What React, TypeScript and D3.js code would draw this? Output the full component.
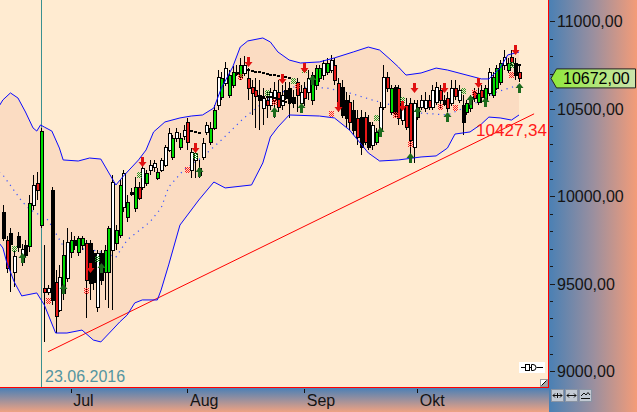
import React, { useEffect } from "react";
import * as d3 from "d3";

// ---------- DATA ----------
const firstDay = new Date(Date.UTC(2016, 5, 13));

const opens = [
  9909, 9749, 9789, 9566, 9771, 9623, 9720, 9714, 9949, 10074,
  9834, 9474, 9451, 10034, 9509, 9349, 9446, 9531, 9680, 9749,
  9680, 9720, 9731, 9731, 9674, 9366, 9674, 9566, 9566, 9691,
  9731, 9777, 9937, 9880, 10023, 9931, 10051, 10051, 10074, 10149,
  10166, 10103, 10149, 10177, 10263, 10223, 10331, 10280, 10343, 10423,
  10149, 10206, 10120, 10223, 10366, 10309, 10389, 10520, 10566, 10646,
  10577, 10634, 10709, 10680, 10703, 10674, 10623, 10606, 10577, 10503,
  10549, 10520, 10549, 10594, 10520, 10606, 10617, 10566, 10651, 10531,
  10617, 10594, 10549, 10634, 10674, 10691, 10709, 10720, 10749, 10646,
  10623, 10549, 10537, 10491, 10446, 10451, 10451, 10423, 10291, 10309,
  10377, 10509, 10680, 10480, 10623, 10617, 10434, 10520, 10531, 10280,
  10451, 10509, 10503, 10549, 10509, 10537, 10606, 10549, 10560, 10531,
  10617, 10549, 10520, 10480, 10503, 10594, 10537, 10606, 10549, 10589,
  10577, 10617, 10651, 10749, 10720, 10794, 10760, 10709,
];
const highs = [
  9949, 9771, 9817, 9691, 9794, 9726, 9749, 10006, 10120, 10137,
  10389, 9720, 9491, 10051, 9577, 9606, 9749, 9817, 9794, 9771,
  9771, 9771, 9749, 9749, 9691, 9691, 9691, 9720, 9829, 10120,
  9834, 10091, 10149, 10006, 10046, 10109, 10080, 10177, 10149, 10206,
  10206, 10160, 10217, 10291, 10389, 10349, 10389, 10360, 10406, 10446,
  10274, 10263, 10206, 10331, 10423, 10423, 10520, 10720, 10709, 10766,
  10720, 10743, 10749, 10789, 10800, 10731, 10663, 10674, 10663, 10617,
  10594, 10617, 10651, 10663, 10634, 10651, 10651, 10606, 10674, 10634,
  10651, 10720, 10709, 10749, 10749, 10777, 10789, 10806, 10789, 10674,
  10663, 10594, 10577, 10549, 10491, 10491, 10480, 10463, 10423, 10389,
  10537, 10749, 10709, 10634, 10634, 10634, 10549, 10560, 10560, 10549,
  10549, 10577, 10594, 10577, 10634, 10651, 10634, 10577, 10594, 10663,
  10663, 10634, 10577, 10549, 10577, 10617, 10617, 10634, 10634, 10731,
  10709, 10749, 10777, 10834, 10789, 10834, 10789, 10749,
];
const lows = [
  9743, 9560, 9451, 9480, 9680, 9600, 9646, 9680, 9920, 9977,
  9817, 9166, 9434, 9377, 9217, 9337, 9406, 9509, 9646, 9691,
  9657, 9691, 9303, 9406, 9463, 9337, 9491, 9406, 9360, 9349,
  9691, 9760, 9909, 9851, 10000, 9909, 9977, 10034, 10057, 10120,
  10137, 10091, 10137, 10166, 10251, 10206, 10309, 10263, 10320, 10263,
  10103, 10103, 10103, 10206, 10349, 10291, 10377, 10491, 10549, 10629,
  10560, 10617, 10686, 10663, 10686, 10549, 10463, 10389, 10377, 10406,
  10446, 10491, 10446, 10480, 10491, 10549, 10446, 10503, 10480, 10503,
  10514, 10549, 10520, 10606, 10651, 10663, 10691, 10703, 10634, 10480,
  10446, 10389, 10377, 10349, 10291, 10234, 10291, 10263, 10263, 10291,
  10366, 10491, 10594, 10463, 10446, 10406, 10406, 10377, 10206, 10189,
  10434, 10491, 10480, 10491, 10491, 10520, 10503, 10514, 10480, 10514,
  10549, 10531, 10349, 10463, 10480, 10537, 10520, 10531, 10537, 10571,
  10560, 10606, 10634, 10720, 10703, 10749, 10663, 10651,
];
const closes = [
  9760, 9589, 9726, 9657, 9709, 9697, 9663, 9960, 10063, 10034,
  10371, 9451, 9474, 9406, 9314, 9537, 9663, 9737, 9749, 9720,
  9760, 9760, 9520, 9503, 9509, 9674, 9520, 9691, 9817, 10080,
  9806, 10063, 10131, 9966, 10011, 10051, 9989, 10160, 10131, 10177,
  10189, 10137, 10206, 10280, 10360, 10331, 10366, 10331, 10377, 10309,
  10251, 10246, 10160, 10303, 10406, 10389, 10491, 10680, 10674, 10731,
  10691, 10709, 10697, 10749, 10749, 10617, 10589, 10571, 10549, 10560,
  10520, 10594, 10606, 10509, 10577, 10560, 10537, 10531, 10577, 10594,
  10560, 10674, 10691, 10731, 10731, 10760, 10760, 10777, 10663, 10503,
  10463, 10446, 10423, 10377, 10337, 10280, 10309, 10280, 10406, 10366,
  10509, 10680, 10617, 10617, 10474, 10446, 10503, 10394, 10320, 10531,
  10509, 10549, 10549, 10509, 10606, 10623, 10549, 10526, 10503, 10617,
  10571, 10606, 10423, 10531, 10566, 10560, 10589, 10566, 10617, 10709,
  10680, 10731, 10760, 10794, 10760, 10766, 10691, 10672,
];
// W = up, B = down, G = strong up, R = strong down
const candleKinds = (
  "BRBWBWBGWR" + "GRWBRWGWGB" + "GGRBBWBGGW" + "GGWGBGRWGW" + "WGWWWGWGWR" +
  "WWGWWGGWGW" + "GGBGWRRRBW" + "RWWRWBBBRW" + "RWGGGWGWRR" + "BBRBRBRBWG" +
  "WWRGBRWRRW" + "GWWRWWRBRW" + "RWBGGRGRGW" + "GGGWGRBR"
).split("");

// Bollinger bands (day offsets from firstDay)
const upperDays = [-1, 0, 2, 4, 6, 8, 9, 10, 11, 13, 15, 16, 20, 23, 26, 28, 30, 32, 36, 38, 40, 43, 47, 50, 53, 56, 58, 61, 63, 65, 69, 71, 73, 76, 79, 84, 88, 93, 97, 100, 103, 105, 107, 111, 115, 118, 124, 127, 129, 132, 134, 137];
const upperBand = [10514, 10549, 10589, 10560, 10480, 10389, 10371, 10406, 10394, 10371, 10274, 10206, 10200, 10217, 10211, 10137, 10063, 10114, 10206, 10263, 10366, 10423, 10446, 10457, 10463, 10503, 10617, 10737, 10851, 10886, 10903, 10880, 10823, 10777, 10760, 10766, 10789, 10823, 10851, 10834, 10777, 10737, 10691, 10703, 10731, 10720, 10686, 10669, 10669, 10731, 10806, 10823];
const middleDays = [-1, 0, 5, 7, 12, 16, 19, 24, 27, 30, 33, 39, 42, 44, 48, 53, 58, 64, 70, 77, 86, 92, 98, 105, 111, 118, 126, 131, 137];
const middleBand = [10137, 10120, 9971, 9926, 9863, 9714, 9703, 9691, 9674, 9651, 9749, 9851, 9931, 10051, 10149, 10223, 10320, 10446, 10549, 10623, 10617, 10589, 10549, 10509, 10474, 10463, 10537, 10594, 10634];
const lowerDays = [-1, 0, 1, 3, 5, 9, 11, 14, 17, 21, 24, 26, 29, 31, 33, 35, 37, 41, 42, 44, 47, 52, 56, 59, 66, 69, 71, 73, 76, 84, 88, 92, 97, 100, 105, 111, 115, 118, 120, 124, 127, 129, 132, 135, 137];
const lowerBand = [9731, 9703, 9623, 9509, 9429, 9446, 9377, 9217, 9217, 9234, 9177, 9166, 9234, 9280, 9320, 9389, 9406, 9406, 9463, 9606, 9834, 9977, 10080, 10046, 10063, 10189, 10337, 10394, 10463, 10457, 10446, 10377, 10246, 10200, 10206, 10223, 10229, 10274, 10354, 10366, 10411, 10451, 10446, 10434, 10463];

// signals
const sellDays = [23, 37, 51, 65, 74, 80, 89, 106, 109, 117, 126, 136];
const sellTips = [9560, 10166, 10246, 10737, 10640, 10703, 10480, 10486, 10589, 10589, 10617, 10806];
const buyDays = [5, 16, 26, 52, 72, 79, 82, 100, 108, 110, 118, 124, 128, 137];
const buyTips = [9674, 9497, 9617, 10166, 10509, 10531, 10691, 10394, 10246, 10509, 10480, 10577, 10566, 10646];
const redMarkDays = [12, 22, 49, 63, 72, 78, 87, 104, 108, 116, 120, 125, 135];
const redMarkVals = [9400, 9457, 10149, 10680, 10537, 10629, 10469, 10463, 10297, 10509, 10503, 10589, 10691];
const greenMarkDays = [3, 25, 36, 51, 70, 77, 80, 99, 106, 122, 135];
const greenMarkVals = [9697, 9640, 10120, 10229, 10589, 10657, 10720, 10446, 10549, 10600, 10749];
const stopDays = [50, 51, 52, 65, 66, 67, 68, 69, 70, 71, 72, 73, 74, 75, 76, 69, 70, 71, 72, 73, 74, 75, 76, 135, 136, 137];
const stopVals = [10371, 10366, 10360, 10720, 10714, 10709, 10706, 10703, 10697, 10694, 10691, 10686, 10683, 10680, 10674, 10566, 10566, 10566, 10560, 10554, 10543, 10537, 10531, 10749, 10749, 10749];

// axes
const priceLabelValues = [9000, 9500, 10000, 10500, 11000];
const priceMinor = d3.range(9000, 11001, 100);
const monthDates = [
  new Date(Date.UTC(2016, 6, 1)),
  new Date(Date.UTC(2016, 7, 1)),
  new Date(Date.UTC(2016, 8, 1)),
  new Date(Date.UTC(2016, 9, 1)),
];
const monthLabels = ["Jul", "Aug", "Sep", "Okt"];
const markerDate = new Date(Date.UTC(2016, 5, 23));
const lastPrice = 10672;
const trendDates = [new Date(Date.UTC(2016, 5, 25)), new Date(Date.UTC(2016, 9, 28))];
const trendValues = [9110, 10427.34];
const trendEnd = new Date(Date.UTC(2016, 10, 1));

// ---------- RENDER ----------
const FONT = "'Liberation Sans', Arial, Helvetica, sans-serif";
const de = d3.formatLocale({ decimal: ",", thousands: ".", grouping: [3], currency: ["", " €"] });
const fmt = de.format(".2f");
const dateFmt = d3.utcFormat("%d.%m.%Y");

const KIND_FILL: Record<string, string> = { W: "#ffffff", B: "#000000", G: "#00dc00", R: "#e81818" };

export default function App() {
  useEffect(() => {
    document.body.style.margin = "0";
  }, []);

  const PW = 548; // plot right
  const PB = 387; // plot bottom
  const x = d3.scaleUtc().domain([monthDates[0], monthDates[3]]).range([70.7, 417.3]);
  const y = d3.scaleLinear().domain([9000, 11000]).range([371, 21]);
  const dx = (k: number) => x(d3.utcDay.offset(firstDay, k));

  const line = d3.line<[number, number]>();
  const upperPts = upperDays.map((k, i) => [dx(k), y(upperBand[i])] as [number, number]);
  const lowerPts = lowerDays.map((k, i) => [dx(k), y(lowerBand[i])] as [number, number]);
  const midPts = middleDays.map((k, i) => [dx(k), y(middleBand[i])] as [number, number]);
  const fillPath = line([...upperPts, ...lowerPts.slice().reverse()]) + "Z";

  const trend = d3.scaleUtc().domain(trendDates).range(trendValues);
  const markerX = Math.round(x(markerDate)) + 0.5;

  const lastY = y(lastPrice);

  return (
    <svg
      width={637}
      height={412}
      style={{ position: "absolute", left: 0, top: 0, display: "block" }}
      fontFamily={FONT}
    >
      <defs>
        <clipPath id="plotClip">
          <rect x={0} y={0} width={PW} height={PB} />
        </clipPath>
        <linearGradient id="rightPanel" x1="0" x2="1" y1="0" y2="0">
          <stop offset="0" stopColor="#4a80b4" />
          <stop offset="0.5" stopColor="#9a8f9f" />
          <stop offset="1" stopColor="#f49c78" />
        </linearGradient>
        <linearGradient id="bottomPanel" x1="0" x2="0" y1="0" y2="1">
          <stop offset="0" stopColor="#4c80b6" />
          <stop offset="1" stopColor="#efa282" />
        </linearGradient>
        <linearGradient id="priceBox" x1="0" x2="1" y1="0" y2="0">
          <stop offset="0" stopColor="#8fe83a" />
          <stop offset="1" stopColor="#cce4ad" />
        </linearGradient>
        <pattern id="hatchRed" width="2" height="2" patternUnits="userSpaceOnUse">
          <rect width="1" height="1" fill="#ff2020" />
          <rect x="1" y="1" width="1" height="1" fill="#ff2020" />
        </pattern>
        <pattern id="hatchGreen" width="2" height="2" patternUnits="userSpaceOnUse">
          <rect width="1" height="1" fill="#2a9a2a" />
          <rect x="1" y="1" width="1" height="1" fill="#2a9a2a" />
        </pattern>
      </defs>

      {/* plot background */}
      <rect x={0} y={0} width={PW + 1} height={PB + 1} fill="#ffebd1" />

      <g clipPath="url(#plotClip)">
        {/* band fill */}
        <path d={fillPath} fill="#fbdcc2" />
        {/* middle band dotted */}
        <path
          d={line(midPts) || ""}
          fill="none"
          stroke="#3a55ff"
          strokeWidth={1.2}
          strokeDasharray="1.2 4.5"
        />
        {/* date marker line */}
        <line x1={markerX} x2={markerX} y1={0} y2={PB} stroke="#3a9090" strokeWidth={1} />
        {/* trend line */}
        <line
          x1={x(trendDates[0])}
          y1={y(trendValues[0])}
          x2={x(trendEnd)}
          y2={y(trend(trendEnd))}
          stroke="#ff0000"
          strokeWidth={1}
        />

        {/* candles */}
        <g shapeRendering="crispEdges">
          {opens.map((o, i) => {
            const n = Math.round(dx(i));
            const yo = y(o);
            const yc = y(closes[i]);
            const top = Math.round(Math.min(yo, yc));
            const h = Math.max(1, Math.round(Math.abs(yo - yc)));
            const kind = candleKinds[i];
            return (
              <g key={i}>
                <line
                  x1={n + 0.5}
                  x2={n + 0.5}
                  y1={Math.round(y(highs[i]))}
                  y2={Math.round(y(lows[i]))}
                  stroke="#000"
                  strokeWidth={1}
                />
                <rect
                  x={n - 0.5}
                  y={top + 0.5}
                  width={3}
                  height={h}
                  fill={KIND_FILL[kind]}
                  stroke="#000"
                  strokeWidth={1}
                />
              </g>
            );
          })}
        </g>

        {/* stop dashes */}
        <g shapeRendering="crispEdges">
          {stopDays.map((k, i) => (
            <rect
              key={i}
              x={Math.round(dx(k)) - 1}
              y={Math.round(y(stopVals[i])) - 1}
              width={3}
              height={2}
              fill="#000"
            />
          ))}
        </g>

        {/* band lines */}
        <path d={line(upperPts) || ""} fill="none" stroke="#0a0aff" strokeWidth={1} />
        <path d={line(lowerPts) || ""} fill="none" stroke="#0a0aff" strokeWidth={1} />

        {/* hatch markers */}
        {redMarkDays.map((k, i) => (
          <rect
            key={"r" + i}
            x={Math.round(dx(k)) - 2}
            y={Math.round(y(redMarkVals[i])) - 3}
            width={5}
            height={6}
            fill="url(#hatchRed)"
          />
        ))}
        {greenMarkDays.map((k, i) => (
          <rect
            key={"g" + i}
            x={Math.round(dx(k)) - 2}
            y={Math.round(y(greenMarkVals[i])) - 3}
            width={5}
            height={6}
            fill="url(#hatchGreen)"
          />
        ))}

        {/* sell arrows */}
        {sellDays.map((k, i) => {
          const cx = Math.round(dx(k)) + 0.5;
          const ty = Math.round(y(sellTips[i]));
          return (
            <path
              key={"s" + i}
              d={`M${cx - 1.5},${ty - 10} H${cx + 1.5} V${ty - 5} H${cx + 4} L${cx},${ty} L${cx - 4},${ty - 5} H${cx - 1.5} Z`}
              fill="#e01010"
            />
          );
        })}
        {/* buy arrows */}
        {buyDays.map((k, i) => {
          const cx = Math.round(dx(k)) + 0.5;
          const ty = Math.round(y(buyTips[i]));
          return (
            <path
              key={"b" + i}
              d={`M${cx},${ty} L${cx + 4},${ty + 5} H${cx + 1.5} V${ty + 10} H${cx - 1.5} V${ty + 5} H${cx - 4} Z`}
              fill="#1d6b1d"
            />
          );
        })}

        {/* trend value label */}
        <text x={547} y={y(trend(trendDates[1])) + 15} textAnchor="end" fontSize={17} fill="#ff1a1a">
          {fmt(trendValues[1])}
        </text>

        {/* date marker label */}
        <text x={markerX + 3.5} y={382} fontSize={16} fill="#5495a0">
          {dateFmt(markerDate)}
        </text>

        {/* small plot icons */}
        <rect x={519} y={362} width={26} height={11} fill="#ffffff" />
        <path d="M521,367.5 H525.5 M529.5,367.5 H531.5 M536.5,367.5 H543" stroke="#000" strokeWidth={1} />
        <rect x={525.5} y={364.5} width={4} height={6} fill="none" stroke="#000" strokeWidth={1} />
        <path d="M531.5,364.5 H533 A3 3 0 0 1 533,370.5 H531.5 Z" fill="none" stroke="#000" strokeWidth={1} />
        <rect x={540.5} y={379.5} width={7} height={7} fill="#ffffff" stroke="#9a9a9a" strokeWidth={1} />
        <path d="M547,380 L547,386 L541,386 Z" fill="#a8a8a8" />
        <path d="M541.5,385.5 L546.5,380.5" stroke="#000" strokeWidth={1} />
      </g>

      {/* right axis panel */}
      <rect x={549} y={0} width={88} height={412} fill="url(#rightPanel)" />
      {/* bottom axis panel */}
      <rect x={0} y={388} width={549} height={24} fill="url(#bottomPanel)" />

      {/* border lines */}
      <line x1={548.5} x2={548.5} y1={0} y2={388} stroke="#ff0000" strokeWidth={1} />
      <line x1={0} x2={549} y1={387.5} y2={387.5} stroke="#ff0000" strokeWidth={1} />

      {/* y axis ticks & labels */}
      <g shapeRendering="crispEdges">
        {priceMinor.map((v) => {
          const yy = Math.round(y(v)) + 0.5;
          const major = v % 500 === 0;
          return (
            <line key={v} x1={550} x2={major ? 555 : 553} y1={yy} y2={yy} stroke="#1a1a1a" strokeWidth={1} />
          );
        })}
      </g>
      {priceLabelValues.map((v) => (
        <text key={v} x={557} y={y(v) + 6} fontSize={16} fill="#141414">
          {fmt(v)}
        </text>
      ))}

      {/* last price box */}
      <path
        d={`M551,${lastY} L556.5,${lastY - 9.5} H635.5 V${lastY + 9.5} H556.5 Z`}
        fill="url(#priceBox)"
        stroke="#222"
        strokeWidth={1}
      />
      <text x={563} y={lastY + 6} fontSize={16} fill="#000">
        {fmt(lastPrice)}
      </text>

      {/* x axis ticks & labels */}
      <g shapeRendering="crispEdges">
        {monthDates.map((d, i) => {
          const xx = Math.round(x(d)) + 0.5;
          return <line key={i} x1={xx} x2={xx} y1={389} y2={393} stroke="#111" strokeWidth={1} />;
        })}
      </g>
      {monthDates.map((d, i) => (
        <text key={i} x={x(d) + 2.5} y={406} fontSize={16} fill="#141414">
          {monthLabels[i]}
        </text>
      ))}

      {/* bottom-right buttons */}
      {[551, 565, 579].map((bx, i) => (
        <g key={i}>
          <rect x={bx + 0.5} y={389.5} width={12} height={12} fill="#c3cad4" stroke="#8a94a3" strokeWidth={1} />
          {i === 0 && <path d={`M${bx + 2},395.5 H${bx + 11} M${bx + 4},393.5 L${bx + 2},395.5 L${bx + 4},397.5 M${bx + 9},393.5 L${bx + 11},395.5 L${bx + 9},397.5 M${bx + 6.5},393 V398`} stroke="#111" strokeWidth={1} fill="none" />}
          {i === 1 && <path d={`M${bx + 2},395.5 H${bx + 11} M${bx + 4},393.5 L${bx + 2},395.5 L${bx + 4},397.5 M${bx + 9},393.5 L${bx + 11},395.5 L${bx + 9},397.5`} stroke="#111" strokeWidth={1} fill="none" />}
          {i === 2 && <path d={`M${bx + 2},396 L${bx + 5},393 L${bx + 7},395 L${bx + 9},392.5 L${bx + 11},395 M${bx + 2},398.5 H${bx + 11}`} stroke="#111" strokeWidth={1} fill="none" />}
        </g>
      ))}
    </svg>
  );
}
